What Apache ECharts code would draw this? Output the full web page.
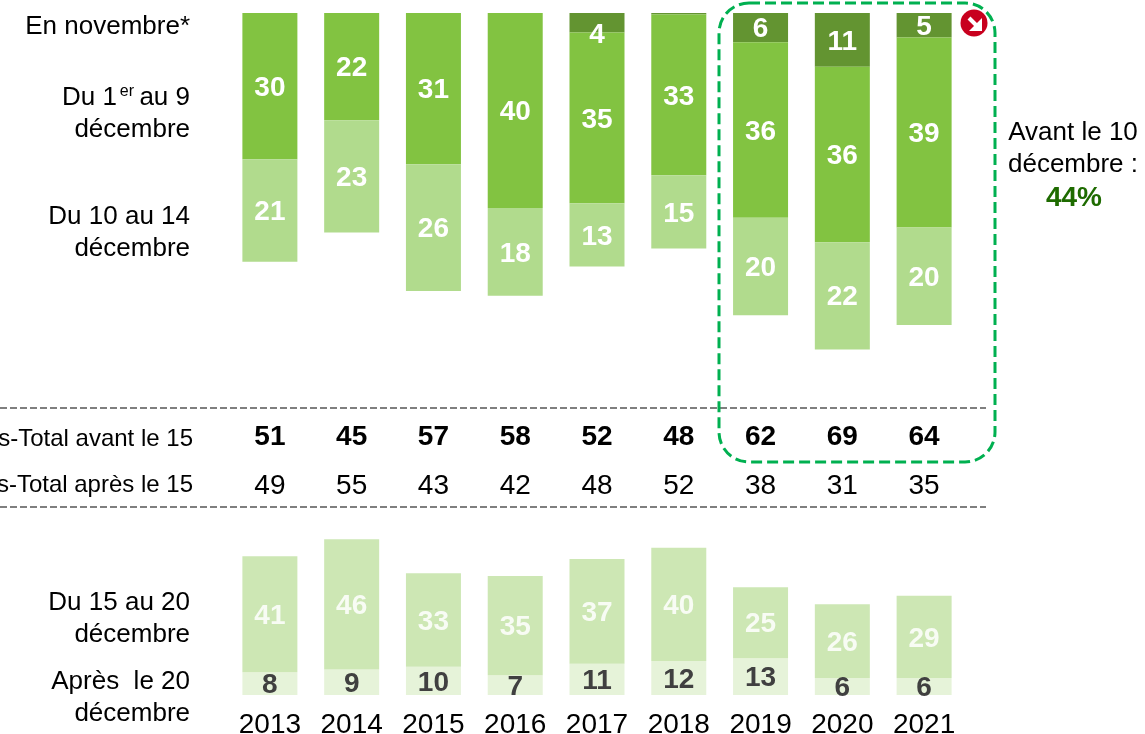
<!DOCTYPE html>
<html><head><meta charset="utf-8">
<style>html,body{margin:0;padding:0;background:#fff}#c{width:1145px;height:734px}</style>
<script src="https://cdn.jsdelivr.net/npm/echarts@6/dist/echarts.min.js"></script></head>
<body><div id="c"></div>
<script>
const years = ['2013','2014','2015','2016','2017','2018','2019','2020','2021'];
const enNovembre = [0,0,0,0,4,0.3,6,11,5];
const du1au9 = [30,22,31,40,35,33,36,36,39];
const du10au14 = [21,23,26,18,13,15,20,22,20];
const du15au20 = [41,46,33,35,37,40,25,26,29];
const apres20 = [8,9,10,7,11,12,13,6,6];
const totalAvant = ['51','45','57','58','52','48','62','69','64'];
const totalApres = ['49','55','43','42','48','52','38','31','35'];

const FONT = '"Liberation Sans", Arial, sans-serif';
const L = 229, W = 736;
const chart = echarts.init(document.getElementById('c'), null, {renderer:'canvas'});

function bar(name, data, color, xi, labelColor) {
  return {
    name, type:'bar', stack: xi === 0 ? 'top' : 'bottom', xAxisIndex: xi, yAxisIndex: xi,
    barWidth: 55, data, animation:false,
    itemStyle:{color},
    label:{show:true, position:'inside', offset:[0,2], color:labelColor, fontFamily:FONT, fontWeight:'bold', fontSize:28,
      formatter:p => p.value >= 1 ? String(p.value) : ''}
  };
}
function catAxis(gi, data, margin, weight, show) {
  return {type:'category', gridIndex:gi, data, position:'bottom',
    axisLine:{show:false}, axisTick:{show:false}, splitLine:{show:false},
    axisLabel:{show, interval:0, margin, color:'#000', fontFamily:FONT, fontSize:28, fontWeight:weight}};
}
function valAxis(gi, max, inverse) {
  return {type:'value', gridIndex:gi, min:0, max, inverse, show:false};
}
function txt(x, y, text, extra) {
  return {type:'text', x, y, silent:true, style:Object.assign({
    text, fill:'#000', font:'26px '+FONT, align:'right', verticalAlign:'middle'}, extra||{})};
}
const dark4 = enNovembre.map((v,i)=> v===4 ? {value:v, label:{offset:[0,13]}} : v);

chart.setOption({
  backgroundColor:'#fff',
  animation:false,
  grid:[
    {left:L, width:W, top:13, height:390, outerBoundsMode:'none'},
    {left:L, width:W, top:525, height:170, outerBoundsMode:'none'},
    {left:L, width:W, top:422, height:1, outerBoundsMode:'none'},
    {left:L, width:W, top:471, height:1, outerBoundsMode:'none'}
  ],
  xAxis:[
    catAxis(0, years, 0, 'normal', false),
    catAxis(1, years, 16, 'normal', true),
    catAxis(2, totalAvant, 0, 'bold', true),
    catAxis(3, totalApres, 0, 'normal', true)
  ],
  yAxis:[valAxis(0,80,true), valAxis(1,60,false), valAxis(2,1,false), valAxis(3,1,false)],
  series:[
    bar('En novembre', dark4, '#639431', 0, '#fff'),
    bar('Du 1er au 9 décembre', du1au9, '#82C341', 0, '#fff'),
    bar('Du 10 au 14 décembre', du10au14, '#B1DB8D', 0, '#fff'),
    bar('Après le 20 décembre', apres20, '#E6F3D9', 1, '#404040'),
    bar('Du 15 au 20 décembre', du15au20, '#CDE7B4', 1, 'rgba(255,255,255,0.85)')
  ],
  graphic:[
    {type:'line', silent:true, shape:{x1:0,y1:408,x2:986,y2:408}, style:{stroke:'#7f7f7f', lineWidth:2, lineDash:[7,3]}},
    {type:'line', silent:true, shape:{x1:0,y1:507,x2:986,y2:507}, style:{stroke:'#7f7f7f', lineWidth:2, lineDash:[7,3]}},
    {type:'rect', silent:true, shape:{x:719,y:3,width:276,height:459,r:30},
      style:{fill:'none', stroke:'#00B050', lineWidth:3, lineDash:[11,5]}},
    {type:'circle', silent:true, shape:{cx:974,cy:23,r:13.5}, style:{fill:'#C8001E'}},
    {type:'line', silent:true, shape:{x1:969,y1:18,x2:978,y2:27}, style:{stroke:'#fff', lineWidth:4}},
    {type:'polygon', silent:true, shape:{points:[[982,18],[982,31],[969,31]]}, style:{fill:'#fff'}},
    txt(190, 27, 'En novembre*'),
    txt(190, 98, 'au 9'),
    txt(134, 92, 'er', {font:'16px '+FONT}),
    txt(117, 98, 'Du 1'),
    txt(190, 130, 'décembre'),
    txt(190, 217, 'Du 10 au 14'),
    txt(190, 249, 'décembre'),
    txt(193, 439, 'Sous-Total avant le 15', {font:'24px '+FONT}),
    txt(193, 485, 'Sous-Total après le 15', {font:'24px '+FONT}),
    txt(190, 603, 'Du 15 au 20'),
    txt(190, 635, 'décembre'),
    txt(190, 682, 'Après  le 20'),
    txt(190, 714, 'décembre'),
    txt(1073, 133, 'Avant le 10', {align:'center'}),
    txt(1073, 165, 'décembre :', {align:'center'}),
    txt(1074, 198, '44%', {align:'center', fill:'#1E6B00', font:'bold 28px '+FONT})
  ]
});
</script></body></html>
